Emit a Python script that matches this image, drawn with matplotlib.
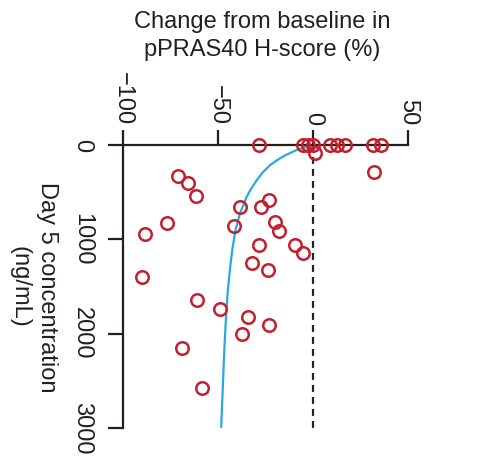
import matplotlib
matplotlib.use("Agg")
import matplotlib.pyplot as plt

plt.rcParams['font.family'] = ['Liberation Sans', 'DejaVu Sans']

# Observed patient data: change from baseline (%) vs Day 5 concentration (ng/mL)
change_pct = [-28.4, -5.1, -2.5, 0.2, 8.9, 12.5, 16.8, 31.7, 35.6,
              1.0, 32.1,
              -70.9, -65.8, -61.6, -77.0, -88.4, -90.2, -60.9, -48.8, -69.1, -58.3,
              -38.2, -41.4, -27.2, -23.3, -20.2, -17.9, -28.4, -9.6, -5.3,
              -31.9, -23.5, -34.2, -23.3, -37.5]
concentration = [0, 0, 0, 0, 0, 0, 0, 0, 0,
                 88, 286,
                 329, 406, 537, 823, 943, 1399, 1640, 1735, 2152, 2572,
                 661, 855, 661, 580, 819, 915, 1060, 1060, 1141,
                 1247, 1321, 1820, 1905, 2000]

# Fitted model curve
curve_conc = [0, 18, 46, 106, 160, 212, 290, 371, 460, 548, 724, 901, 1113,
              1300, 1537, 1800, 2067, 2330, 2597, 2986]
curve_change = [0.0, -3.5, -8.0, -14.5, -19.0, -22.6, -26.5, -29.6, -32.5, -34.9,
                -38.4, -40.8, -42.5, -43.6, -44.8, -45.7, -46.4, -47.0, -47.5, -48.3]

x_ticks = [-100, -50, 0, 50]
y_ticks = [0, 1000, 2000, 3000]

FS = 17
fig = plt.figure(figsize=(4.84, 4.58), dpi=100)
ax = fig.add_axes([0.254, 0.0655, 0.589, 0.6175])

ax.plot([0, 0], [0, 3000], linestyle=(0, (3.1, 2.3)), color='#231f20', lw=1.6, zorder=1)
ax.plot(curve_change, curve_conc, color='#29a9e0', lw=1.6, zorder=2)
ax.plot(change_pct, concentration, linestyle='none', marker='o', ms=9,
        mfc='none', mec='#c1202d', mew=1.8, clip_on=False, zorder=3)

ax.set_xlim(-100, 50)
ax.set_ylim(3000, 0)
ax.xaxis.tick_top()
ax.set_xticks(x_ticks)
ax.set_yticks(y_ticks)
ax.set_xticklabels([str(v).replace('-', '\u2212') for v in x_ticks], rotation=-90,
                   va='bottom', ha='center', fontsize=FS)
ax.set_yticklabels([str(v) for v in y_ticks], rotation=-90, va='center', ha='right',
                   fontsize=FS)
for s in ['right', 'bottom']:
    ax.spines[s].set_visible(False)
for s in ['left', 'top']:
    ax.spines[s].set_linewidth(1.6)
    ax.spines[s].set_color('#231f20')
ax.tick_params(axis='both', direction='out', length=10.5, width=1.6, color='#231f20',
               labelcolor='#231f20')
ax.tick_params(axis='x', pad=4)
ax.tick_params(axis='y', pad=11)

fig.text(0.541, 0.921, 'Change from baseline in\npPRAS40 H-score (%)', ha='center',
         va='center', fontsize=FS, color='#231f20', linespacing=1.35)
fig.text(33 / 484, 1 - 287 / 458, 'Day 5 concentration\n(ng/mL)', rotation=-90,
         ha='center', va='center', fontsize=FS, color='#231f20', linespacing=1.3,
         multialignment='center')

fig.savefig('out.png', dpi=100)
